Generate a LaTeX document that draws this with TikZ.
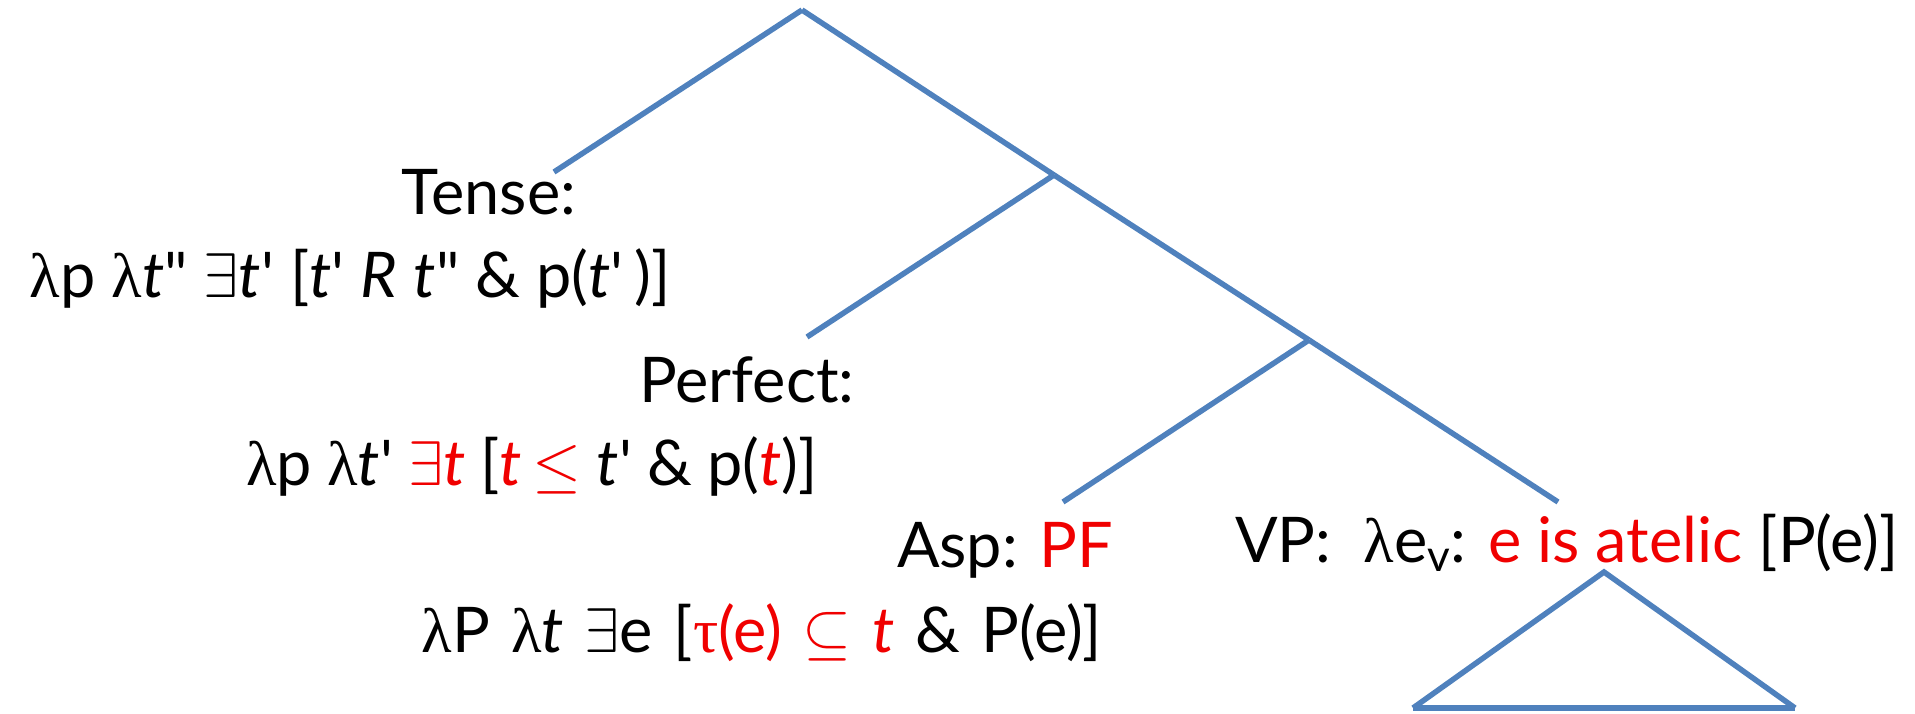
\documentclass[tikz,border=0pt]{standalone}
\usepackage{fix-cm}
\usepackage{fontspec}
\setmainfont{Lato}
\newfontfamily\symbolfont{Liberation Serif}
\usetikzlibrary{positioning}
\definecolor{treeblue}{RGB}{79,129,189}
\definecolor{markred}{RGB}{240,0,0}
\newcommand{\lam}{{\symbolfont λ}}
\newcommand{\tu}{{\symbolfont τ}}
\newcommand{\ti}{\textit{t}}
\newcommand{\pr}{\textquotesingle}
\newcommand{\dpr}{\textquotedbl}
\newcommand{\hl}[1]{\textcolor{markred}{#1}}

\begin{document}
\begin{tikzpicture}[
    x=1pt,
    y=-1pt,
    % estilos del árbol y de las etiquetas semánticas
    branch/.style={draw=treeblue, line width=5.5pt},
    sem text/.style={font=\fontsize{63}{75}\selectfont, inner sep=0pt, anchor=base}
]
    \useasboundingbox (0,0) rectangle (1915,714);

    % --- 1. PUNTOS DEL ÁRBOL ---
    \coordinate (root) at (802,10);
    \coordinate (tenseend) at (554,172);
    \coordinate (perfnode) at (1054,175);
    \coordinate (perfend) at (807,337);
    \coordinate (aspnode) at (1309,340);
    \coordinate (aspend) at (1063,502);
    \coordinate (vpend) at (1558,502);
    \coordinate (tritop) at (1604,572);
    \coordinate (trileft) at (1413,708);
    \coordinate (triright) at (1795,708);

    % --- 2. RAMAS ---
    \draw[branch] (root) -- (tenseend);
    \draw[branch] (root) -- (perfnode);
    \draw[branch] (perfnode) -- (perfend);
    \draw[branch] (perfnode) -- (aspnode);
    \draw[branch] (aspnode) -- (aspend);
    \draw[branch] (aspnode) -- (vpend);

    % --- 3. TRIÁNGULO BAJO VP ---
    \draw[branch] (trileft) -- (tritop) -- (triright);
    \draw[branch] (trileft) -- (triright);

    % --- 4. TENSE ---
    \node[sem text] (tense) at (489,215) {Tense:};
    \node[sem text] (tensesem) at (350,298)
        {\lam p \lam\ti\dpr\ $\exists$\ti\pr\ [\ti\pr\ \textit{R} \ti\dpr\ \& p(\ti\pr\,)]};

    % --- 5. PERFECT ---
    \node[sem text] (perf) at (747,402) {Perfect:};
    \node[sem text] (perfsem) at (532,485)
        {\spaceskip=0.24em \lam p \lam\ti\pr\ \hl{$\exists$\ti} [\hl{\ti\,$\leq$} \ti\pr\ \& p(\hl{\ti})]};

    % --- 6. ASP ---
    \node[sem text] (asp) at (1005,567) {Asp: \hl{PF}};
    \node[sem text] (aspsem) at (762,652)
        {\spaceskip=0.33em \lam P \lam\ti\ $\exists$e [\hl{\tu(e) $\subseteq$ \ti} \& P(e)]};

    % --- 7. VP ---
    \node[sem text] (vp) at (1567,562)
        {VP:\ \ \lam e\textsubscript{v}: \hl{e is atelic} [P(e)]};

\end{tikzpicture}
\end{document}
